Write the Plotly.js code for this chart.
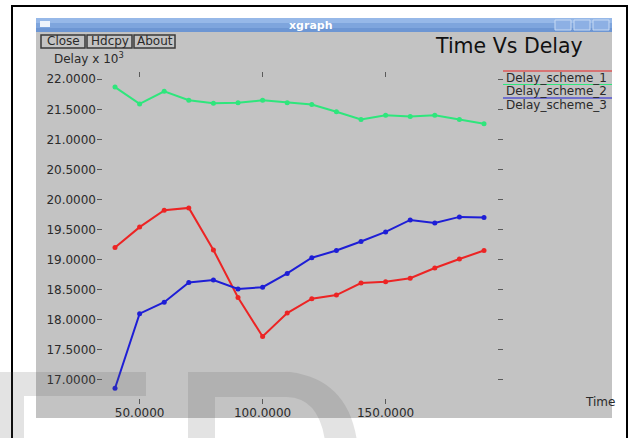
<!DOCTYPE html>
<html>
<head>
<meta charset="utf-8">
<script src="https://cdn.plot.ly/plotly-3.0.1.min.js"></script>
<style>
  html, body { margin: 0; padding: 0; background: #ffffff; }
  #chart { width: 635px; height: 438px; }
</style>
</head>
<body>
<div id="chart"></div>
<script>
// Simulation time (s)
const timeValues = [40, 50, 60, 70, 80, 90, 100, 110, 120, 130, 140, 150, 160, 170, 180, 190];

// Delay (x 10^3) per scheme
const delayScheme1 = [19.20, 19.54, 19.82, 19.86, 19.16, 18.37, 17.72, 18.11, 18.35, 18.41, 18.61, 18.63, 18.69, 18.86, 19.01, 19.15];
const delayScheme2 = [21.87, 21.59, 21.80, 21.65, 21.60, 21.61, 21.65, 21.61, 21.58, 21.46, 21.33, 21.40, 21.38, 21.40, 21.33, 21.26];
const delayScheme3 = [16.86, 18.10, 18.29, 18.62, 18.66, 18.51, 18.54, 18.77, 19.03, 19.15, 19.30, 19.46, 19.66, 19.61, 19.71, 19.70];

const seriesNames = ['Delay_scheme_1', 'Delay_scheme_2', 'Delay_scheme_3'];
const xTickVals = [50, 100, 150];
const yTickVals = [17.0, 17.5, 18.0, 18.5, 19.0, 19.5, 20.0, 20.5, 21.0, 21.5, 22.0];

const colors = ['#ec2424', '#2ee67c', '#1e1ed6'];

// Plot box in page pixels
const W = 635, H = 438;
const L = 97, R = 503, T = 72, B = 404;
const px = x => (x - L) / (R - L);
const py = y => (B - y) / (B - T);

const FONT = 'DejaVu Sans, Verdana, sans-serif';
const TXT = '#2a2a2a';
const WIN = '#c3c3c3';

function rect(x0, y0, x1, y1, opts) {
  return Object.assign({
    type: 'rect', xref: 'paper', yref: 'paper',
    x0: px(x0), x1: px(x1), y0: py(y1), y1: py(y0),
    layer: 'below', line: { width: 0 }
  }, opts || {});
}
function hline(x0, x1, y, color, width) {
  return {
    type: 'line', xref: 'paper', yref: 'paper',
    x0: px(x0), x1: px(x1), y0: py(y), y1: py(y),
    layer: 'above', line: { color: color, width: width || 1 }
  };
}
function pathOf(points) {
  // points: array of [cmd, x, y, ...] in page pixels
  return points.map(p => {
    const cmd = p[0];
    const coords = [];
    for (let i = 1; i < p.length; i += 2) coords.push(px(p[i]).toFixed(5) + ',' + py(p[i + 1]).toFixed(5));
    return cmd + coords.join(' ');
  }).join(' ') + ' Z';
}
function label(x, y, text, opts) {
  return Object.assign({
    xref: 'paper', yref: 'paper', x: px(x), y: py(y),
    text: text, showarrow: false, xanchor: 'left', yanchor: 'middle',
    font: { family: FONT, size: 12, color: TXT }
  }, opts || {});
}

const shapes = [
  // outer frame
  rect(12, 6, 627, 460, { fillcolor: 'rgba(0,0,0,0)', line: { color: '#000', width: 2 } }),
  // window body
  rect(36, 32, 612, 418, { fillcolor: WIN }),
  // title bar
  rect(36, 18, 612, 23, { fillcolor: '#96b8e8' }),
  rect(36, 23, 612, 28, { fillcolor: '#7ea5dd' }),
  rect(36, 28, 612, 32, { fillcolor: '#6d96d3' }),
  rect(40, 21, 50, 27, { fillcolor: '#eef3fb', layer: 'above' }),
  rect(555, 20, 571, 30, { fillcolor: '#8db0e4', line: { color: '#c8daf3', width: 1 }, layer: 'above' }),
  rect(574, 20, 590, 30, { fillcolor: '#8db0e4', line: { color: '#c8daf3', width: 1 }, layer: 'above' }),
  rect(593, 20, 609, 30, { fillcolor: '#8db0e4', line: { color: '#c8daf3', width: 1 }, layer: 'above' }),
  // buttons
  rect(41, 35, 85, 48, { fillcolor: WIN, line: { color: '#3a3a3a', width: 1.5 }, layer: 'above' }),
  rect(87, 35, 132, 48, { fillcolor: WIN, line: { color: '#3a3a3a', width: 1.5 }, layer: 'above' }),
  rect(134, 35, 175, 48, { fillcolor: WIN, line: { color: '#3a3a3a', width: 1.5 }, layer: 'above' }),
  // legend strokes
  hline(503, 612, 71, colors[0], 1.2),
  hline(503, 612, 84.5, colors[1], 1.2),
  hline(503, 612, 98, colors[2], 1.2),
  // watermark letters
  {
    type: 'path', xref: 'paper', yref: 'paper', layer: 'above',
    path: pathOf([['M', 0, 372], ['L', 146, 372], ['L', 146, 396], ['L', 24, 396], ['L', 24, 450], ['L', 0, 450]]),
    fillcolor: 'rgba(90,90,90,0.17)', line: { width: 0 }
  },
  {
    type: 'path', xref: 'paper', yref: 'paper', layer: 'above',
    path: pathOf([['M', 188, 372], ['L', 290, 372], ['Q', 352, 380, 358, 450], ['L', 326, 450],
                  ['Q', 322, 398, 287, 397], ['L', 215, 397], ['L', 215, 450], ['L', 188, 450]]),
    fillcolor: 'rgba(90,90,90,0.17)', line: { width: 0 }
  }
];

const annotations = [
  label(311, 25, 'xgraph', { xanchor: 'center', font: { family: 'DejaVu Sans, sans-serif', size: 11, color: '#ffffff', weight: 'bold' } }),
  label(63, 41.5, 'Close', { xanchor: 'center' }),
  label(109.5, 41.5, 'Hdcpy', { xanchor: 'center' }),
  label(154.5, 41.5, 'About', { xanchor: 'center' }),
  label(585, 46, 'Time Vs Delay', { xanchor: 'right', font: { family: FONT, size: 20.5, color: '#111' } }),
  label(52, 58, 'Delay x 10<sup>3</sup>'),
  label(583, 402, 'Time'),
  label(504, 77.5, seriesNames[0]),
  label(504, 91, seriesNames[1]),
  label(504, 104.5, seriesNames[2])
];

const traces = [delayScheme1, delayScheme2, delayScheme3].map((ys, i) => ({
  x: timeValues, y: ys, type: 'scatter', mode: 'lines+markers', name: seriesNames[i],
  line: { color: colors[i], width: 2 },
  marker: { color: colors[i], size: 5 },
  cliponaxis: false
}));

const axisCommon = {
  showgrid: false, zeroline: false, showline: false,
  ticks: 'inside', ticklen: 5, tickwidth: 1, tickcolor: '#5a5a5a',
  mirror: 'ticks', tickformat: '.4f',
  tickfont: { family: FONT, size: 12, color: TXT },
  fixedrange: true
};

const layout = {
  width: W, height: H,
  margin: { l: L, r: W - R, t: T, b: H - B, pad: 0 },
  paper_bgcolor: '#ffffff',
  plot_bgcolor: 'rgba(0,0,0,0)',
  showlegend: false,
  xaxis: Object.assign({}, axisCommon, { range: [32.68, 197.72], tickmode: 'array', tickvals: xTickVals }),
  yaxis: Object.assign({}, axisCommon, { range: [16.597, 22.121], tickmode: 'array', tickvals: yTickVals }),
  shapes: shapes,
  annotations: annotations
};

Plotly.newPlot('chart', traces, layout, { staticPlot: true, displayModeBar: false });
</script>
</body>
</html>
